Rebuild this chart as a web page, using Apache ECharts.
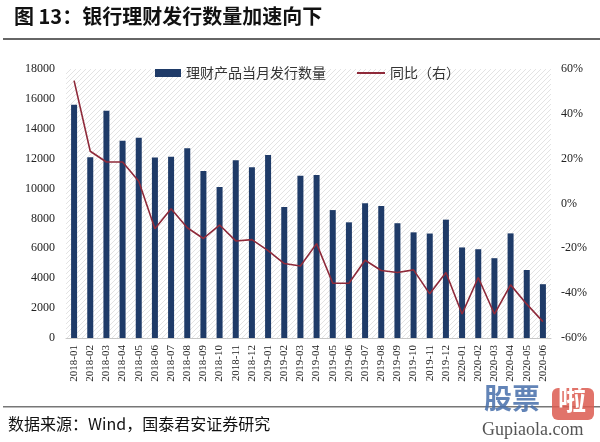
<!DOCTYPE html>
<html><head><meta charset="utf-8">
<script src="https://cdn.jsdelivr.net/npm/echarts@6/dist/echarts.min.js"></script>
<style>html,body{margin:0;padding:0;background:#fff}#c{width:600px;height:442px}</style>
</head><body><div id="c"></div>
<script>
const categories = ['2018-01','2018-02','2018-03','2018-04','2018-05','2018-06','2018-07','2018-08','2018-09','2018-10','2018-11','2018-12',
'2019-01','2019-02','2019-03','2019-04','2019-05','2019-06','2019-07','2019-08','2019-09','2019-10','2019-11','2019-12',
'2020-01','2020-02','2020-03','2020-04','2020-05','2020-06'];
const issuance = [15600,12100,15200,13200,13400,12080,12120,12700,11180,10110,11900,11420,
12250,8760,10860,10900,8560,7740,9010,8830,7680,7070,6990,7920,
6060,5940,5340,7000,4550,3600];
const yoy = [54.8,23.3,18.5,18.5,9.9,-11.3,-2.3,-10.8,-15.6,-9.6,-16.7,-16.1,
-21.0,-26.8,-27.9,-17.9,-35.6,-35.6,-25.3,-29.9,-30.8,-29.6,-40.3,-30.8,
-49.3,-33.0,-49.3,-36.3,-44.9,-52.7];
const leftTicks = {min:0, max:18000, interval:2000};
const rightTicks = {min:-60, max:60, interval:20};

const pc = document.createElement('canvas');
pc.width = 5; pc.height = 5;
const g = pc.getContext('2d');
g.fillStyle = '#ffffff'; g.fillRect(0,0,5,5);
g.strokeStyle = '#e3e3e3'; g.lineWidth = 1;
g.beginPath(); g.moveTo(-1,6); g.lineTo(6,-1); g.stroke();
g.beginPath(); g.moveTo(-1,1); g.lineTo(1,-1); g.stroke();
g.beginPath(); g.moveTo(4,6); g.lineTo(6,4); g.stroke();

const serif = 'Liberation Serif';
const cjk = 'Noto Sans CJK SC';
const chart = echarts.init(document.getElementById('c'));
chart.setOption({
  animation: false,
  backgroundColor: '#fff',
  grid: {left: 66, right: 49, top: 69, bottom: 104, show: true, borderWidth: 0,
         backgroundColor: {image: pc, repeat: 'repeat'}},
  legend: [
    {top: 61, left: 150, itemWidth: 26, itemHeight: 8,
     textStyle: {fontFamily: cjk, fontSize: 14, color: '#333'},
     data: [{name: '理财产品当月发行数量', icon: 'rect'}]},
    {top: 61, left: 352, itemWidth: 28, itemHeight: 2,
     textStyle: {fontFamily: cjk, fontSize: 14, color: '#333'},
     data: [{name: '同比（右）', icon: 'rect'}]}
  ],
  xAxis: {type: 'category', data: categories,
    axisLine: {lineStyle: {color: '#c8c8c8'}}, axisTick: {show: false},
    axisLabel: {rotate: 90, interval: 0, fontFamily: serif, fontSize: 11, color: '#222', margin: 7}},
  yAxis: [
    {type: 'value', min: leftTicks.min, max: leftTicks.max, interval: leftTicks.interval,
     splitLine: {show: false}, axisLine: {show: false}, axisTick: {show: false},
     axisLabel: {formatter: v => String(v), fontFamily: serif, fontSize: 12, color: '#222', margin: 11}},
    {type: 'value', min: rightTicks.min, max: rightTicks.max, interval: rightTicks.interval,
     splitLine: {show: false}, axisLine: {show: false}, axisTick: {show: false},
     axisLabel: {formatter: '{value}%', fontFamily: serif, fontSize: 12, color: '#222', margin: 10}}
  ],
  series: [
    {name: '理财产品当月发行数量', type: 'bar', data: issuance, barWidth: 6,
     itemStyle: {color: '#1f3b68'}},
    {name: '同比（右）', type: 'line', yAxisIndex: 1, data: yoy, symbol: 'none',
     lineStyle: {color: '#8e2a3a', width: 1.6}, itemStyle: {color: '#8e2a3a'}}
  ],
  graphic: [
    {type: 'text', left: 14, top: 6, style: {text: '图 13：银行理财发行数量加速向下', font: 'bold 20px "Noto Sans CJK SC"', fill: '#111'}},
    {type: 'rect', shape: {x: 3, y: 38, width: 597, height: 2}, style: {fill: '#666'}},
    {type: 'rect', shape: {x: 3, y: 406, width: 597, height: 1.5}, style: {fill: '#777'}},
    {type: 'text', left: 8, top: 416, style: {text: '数据来源：Wind，国泰君安证券研究', font: '16px "Noto Sans CJK SC"', fill: '#111'}},
    {type: 'text', left: 484, top: 384, style: {text: '股票', font: 'bold 28px "Noto Sans CJK SC"', fill: 'rgba(70,110,170,0.85)'}},
    {type: 'rect', shape: {x: 552, y: 388, width: 42, height: 32, r: 6}, style: {fill: 'rgba(220,90,80,0.85)'}},
    {type: 'text', left: 558, top: 385, style: {text: '啦', font: 'bold 28px "Noto Sans CJK SC"', fill: '#fff'}},
    {type: 'text', left: 482, top: 421, style: {text: 'Gupiaola.com', font: '18px "Liberation Serif"', fill: '#555'}}
  ]
});
</script></body></html>
